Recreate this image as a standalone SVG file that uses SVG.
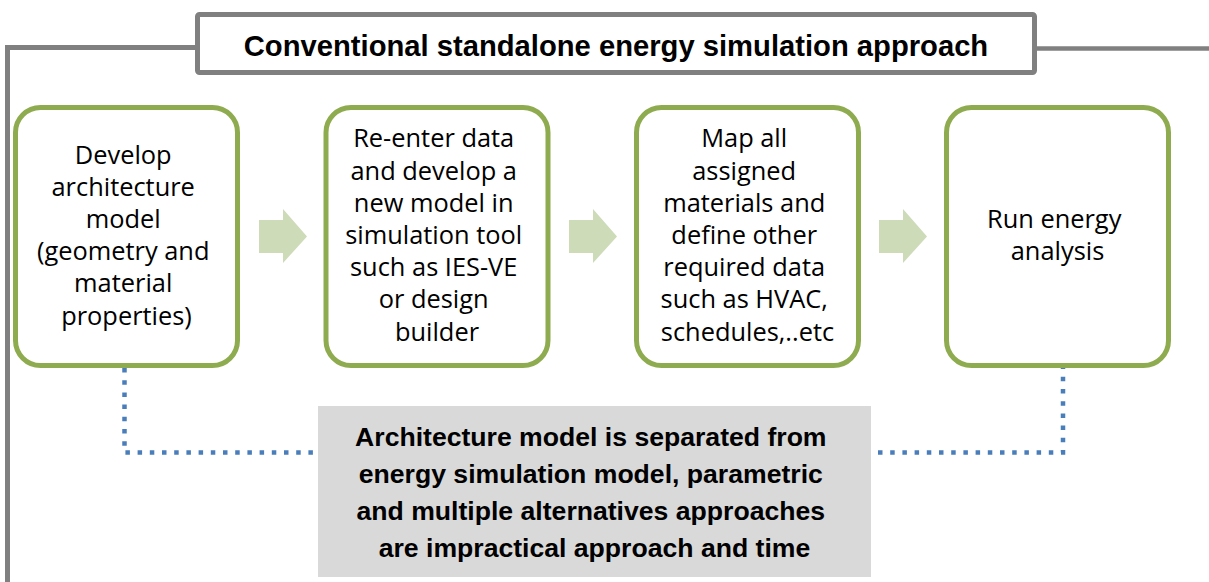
<svg xmlns="http://www.w3.org/2000/svg" width="1209" height="582" viewBox="0 0 1209 582">
<style>
.frame{fill:none;stroke:#808080;stroke-width:5}
.title{fill:#ffffff;stroke:#808080;stroke-width:5}
.step{fill:#ffffff;stroke:#8eac4f;stroke-width:5}
.arrow{fill:#cddbb8}
.dot{fill:none;stroke:#4a7ebb;stroke-width:4.5;stroke-dasharray:4.5 7.7}
.note{fill:#d9d9d9}
.t{font-family:"Open Sans","Noto Sans",sans-serif;font-size:25.4px;fill:#000000;text-anchor:middle}
.tb{font-family:"Liberation Sans",Arial,sans-serif;font-weight:bold;fill:#000000;text-anchor:middle}
</style>
<rect width="1209" height="582" fill="#ffffff"/>
<g id="connectors">
<polyline class="frame" points="197.5,47.5 7.5,47.5 7.5,582"/>
<line class="frame" x1="1034.5" y1="48.5" x2="1209" y2="48.5" style="stroke-width:4.5"/>
<polygon class="arrow" points="259,220 283,220 283,209 307,236.5 283,263 283,253 259,253"/>
<polygon class="arrow" points="569,220 593,220 593,209 617,236.5 593,263 593,253 569,253"/>
<polygon class="arrow" points="879,220 903,220 903,209 927,236.5 903,263 903,253 879,253"/>
<polyline class="dot" points="124.5,368 124.5,452.5 314,452.5"/>
<polyline class="dot" points="878,452.5 1063,452.5 1063,368"/>
</g>
<g id="title">
<rect class="title" x="197.5" y="14.5" width="837" height="58" rx="2"/>
<text class="tb" x="616" y="55.5" font-size="29.2">Conventional standalone energy simulation approach</text>
</g>
<g id="step1">
<rect class="step" x="15.5" y="107.5" width="222" height="258" rx="25"/>
<text class="t">
<tspan x="126.5" y="163.5">Develop</tspan>
<tspan x="126.5" y="195.7">architecture</tspan>
<tspan x="126.5" y="227.9">model</tspan>
<tspan x="126.5" y="260.1">(geometry and</tspan>
<tspan x="126.5" y="292.3">material</tspan>
<tspan x="126.5" y="324.5">properties)</tspan>
</text>
</g>
<g id="step2">
<rect class="step" x="326" y="107.5" width="222" height="258" rx="25"/>
<text class="t">
<tspan x="437" y="147.4">Re-enter data</tspan>
<tspan x="437" y="179.6">and develop a</tspan>
<tspan x="437" y="211.8">new model in</tspan>
<tspan x="437" y="244">simulation tool</tspan>
<tspan x="437" y="276.2">such as IES-VE</tspan>
<tspan x="437" y="308.4">or design</tspan>
<tspan x="437" y="340.6">builder</tspan>
</text>
</g>
<g id="step3">
<rect class="step" x="636.5" y="107.5" width="222" height="258" rx="25"/>
<text class="t">
<tspan x="747.5" y="147.4">Map all</tspan>
<tspan x="747.5" y="179.6">assigned</tspan>
<tspan x="747.5" y="211.8">materials and</tspan>
<tspan x="747.5" y="244">define other</tspan>
<tspan x="747.5" y="276.2">required data</tspan>
<tspan x="747.5" y="308.4">such as HVAC,</tspan>
<tspan x="747.5" y="340.6">schedules,..etc</tspan>
</text>
</g>
<g id="step4">
<rect class="step" x="946.5" y="107.5" width="222" height="258" rx="25"/>
<text class="t">
<tspan x="1057.5" y="227.9">Run energy</tspan>
<tspan x="1057.5" y="260.1">analysis</tspan>
</text>
</g>
<g id="note">
<rect class="note" x="318" y="406" width="553" height="171"/>
<text class="tb" font-size="26.6">
<tspan x="594.5" y="446">Architecture model is separated from</tspan>
<tspan x="594.5" y="483">energy simulation model, parametric</tspan>
<tspan x="594.5" y="520">and multiple alternatives approaches</tspan>
<tspan x="594.5" y="557">are impractical approach and time</tspan>
</text>
</g>
</svg>
